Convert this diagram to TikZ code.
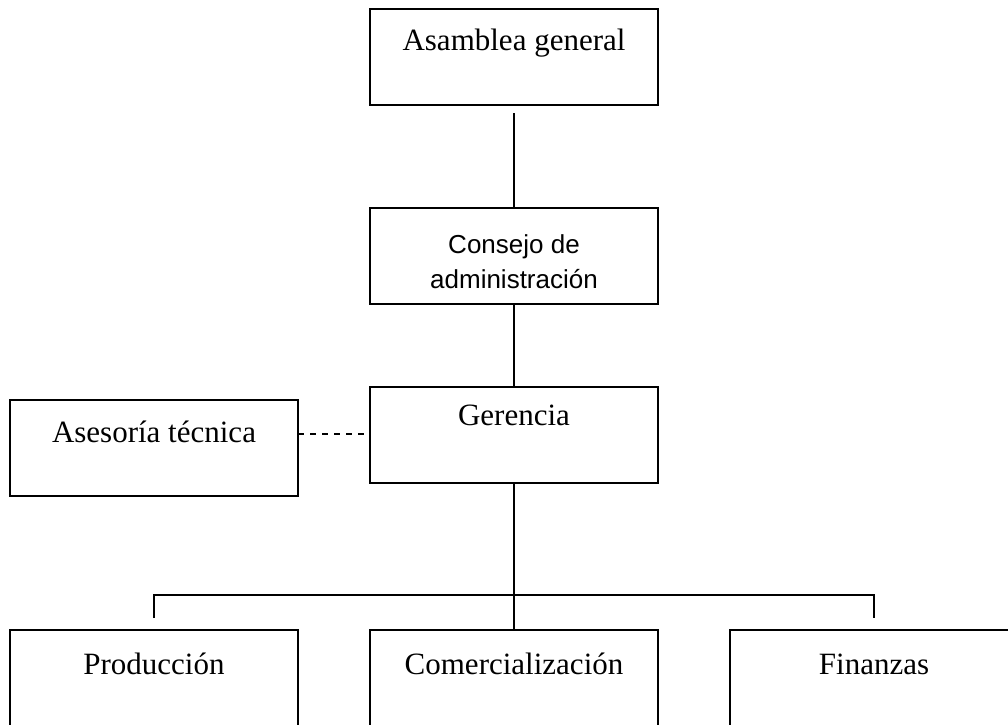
\documentclass[tikz,border=0pt]{standalone}
\usepackage{fontspec}
\setmainfont{Liberation Serif}
\newfontfamily\arialf{Liberation Sans}
\begin{document}
\begin{tikzpicture}[x=1pt,y=-1pt,
 box/.style={draw,line width=1.8pt,minimum width=288pt,minimum height=96pt,inner sep=0pt,outer sep=0pt},
 lbl/.style={anchor=base,font=\fontsize{31}{37}\selectfont,inner sep=0pt},
 slbl/.style={anchor=base,font=\arialf\fontsize{26}{32}\selectfont,inner sep=0pt},
 conn/.style={line width=1.4pt},
]
\useasboundingbox (0,0) rectangle (1008,724);
\clip (0,0) rectangle (1008,724);
\node[box] (ag) at (514,57) {};
\node[lbl] (agt) at (514,50) {Asamblea general};
\node[box] (cd) at (514,256) {};
\node[slbl] (cdt1) at (514,253) {Consejo de};
\node[slbl] (cdt2) at (514,288) {administración};
\node[box] (ge) at (514,435) {};
\node[lbl] (get) at (514,425) {Gerencia};
\node[box] (as) at (154,448) {};
\node[lbl] (ast) at (154,442) {Asesoría técnica};
\node[box] (pr) at (154,678) {};
\node[lbl] (prt) at (154,674) {Producción};
\node[box] (co) at (514,678) {};
\node[lbl] (cot) at (514,674) {Comercialización};
\node[box] (fi) at (874,678) {};
\node[lbl] (fit) at (874,674) {Finanzas};
\coordinate (bus) at (514,595);
\coordinate (dsh) at (0,434);
\draw[conn] ([yshift=-8pt]ag.south) -- (cd.north);
\draw[conn] (cd.south) -- (ge.north);
\draw[conn] (ge.south) -- (co.north);
\draw[conn] ([yshift=12pt]pr.north) -- (pr.north |- bus) -- (fi.north |- bus) -- ([yshift=12pt]fi.north);
\draw[conn,dash pattern=on 6pt off 6pt] (as.east |- dsh) -- (ge.west |- dsh);
\end{tikzpicture}
\end{document}
